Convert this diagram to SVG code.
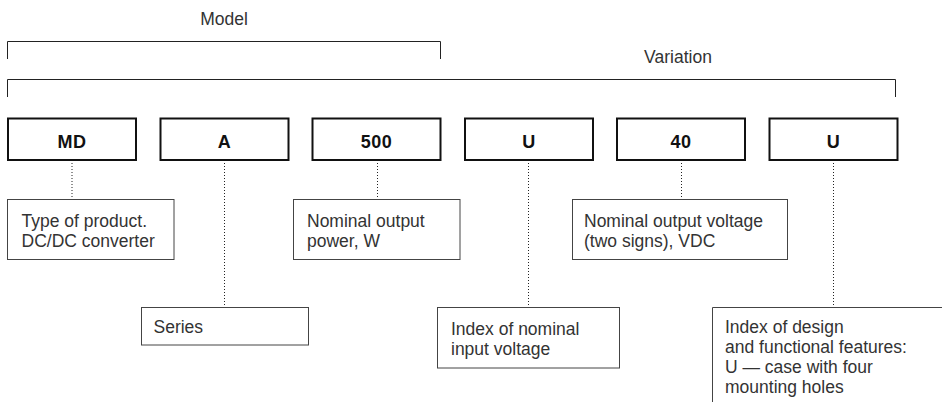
<svg xmlns="http://www.w3.org/2000/svg" width="942" height="412" viewBox="0 0 942 412">
  <style>
    .bg { fill: #ffffff; }
    .code rect { fill: #ffffff; stroke: #111111; stroke-width: 2; }
    .code text { font-family: "Liberation Sans", Arial, sans-serif; font-size: 18px; font-weight: bold; fill: #111111; text-anchor: middle; letter-spacing: 0.5px; }
    .desc rect, .desc path { fill: #ffffff; stroke: #444444; stroke-width: 1; }
    .desc text, .label { font-family: "Liberation Sans", Arial, sans-serif; font-size: 17.5px; fill: #333333; }
    .label { text-anchor: middle; }
    .bracket { fill: none; stroke: #222222; stroke-width: 1; }
    .dot { fill: none; stroke: #222222; stroke-width: 1; stroke-dasharray: 1 2; }
  </style>
  <rect class="bg" x="0" y="0" width="942" height="412"/>

  <g id="model-bracket">
    <text class="label" x="224" y="25">Model</text>
    <path class="bracket" d="M7.5,59 V41.5 H440.5 V59"/>
  </g>
  <g id="variation-bracket">
    <text class="label" x="678" y="63">Variation</text>
    <path class="bracket" d="M7.5,97 V79.5 H895.5 V97"/>
  </g>

  <g id="connectors">
    <line class="dot" x1="72" y1="160" x2="72" y2="199"/>
    <line class="dot" x1="224.5" y1="160" x2="224.5" y2="307"/>
    <line class="dot" x1="377.5" y1="160" x2="377.5" y2="199"/>
    <line class="dot" x1="528.5" y1="160" x2="528.5" y2="307"/>
    <line class="dot" x1="681.5" y1="160" x2="681.5" y2="199"/>
    <line class="dot" x1="833.5" y1="160" x2="833.5" y2="307"/>
  </g>

  <g id="code-md" class="code">
    <rect x="8" y="118.5" width="128" height="41.5"/>
    <text x="72" y="147.5">MD</text>
  </g>
  <g id="code-a" class="code">
    <rect x="160.5" y="118.5" width="128" height="41.5"/>
    <text x="224.5" y="147.5">A</text>
  </g>
  <g id="code-500" class="code">
    <rect x="312.5" y="118.5" width="128" height="41.5"/>
    <text x="376.5" y="147.5">500</text>
  </g>
  <g id="code-u1" class="code">
    <rect x="465" y="118.5" width="128" height="41.5"/>
    <text x="529" y="147.5">U</text>
  </g>
  <g id="code-40" class="code">
    <rect x="617" y="118.5" width="128" height="41.5"/>
    <text x="681" y="147.5">40</text>
  </g>
  <g id="code-u2" class="code">
    <rect x="769.5" y="118.5" width="128" height="41.5"/>
    <text x="833.5" y="147.5">U</text>
  </g>

  <g id="desc-type" class="desc">
    <rect x="7.5" y="199.5" width="166.5" height="60"/>
    <text x="21.5" y="226.5">Type of product.</text>
    <text x="21.5" y="247">DC/DC converter</text>
  </g>
  <g id="desc-series" class="desc">
    <rect x="141.5" y="307.5" width="167" height="37.5"/>
    <text x="153.5" y="333">Series</text>
  </g>
  <g id="desc-power" class="desc">
    <rect x="293.5" y="199.5" width="166.5" height="60"/>
    <text x="307" y="226.5">Nominal output</text>
    <text x="307" y="247">power, W</text>
  </g>
  <g id="desc-input" class="desc">
    <rect x="437.5" y="307.5" width="182" height="60.5"/>
    <text x="451" y="335">Index of nominal</text>
    <text x="451" y="355">input voltage</text>
  </g>
  <g id="desc-voltage" class="desc">
    <rect x="572.5" y="199.5" width="215" height="60"/>
    <text x="584" y="226.5">Nominal output voltage</text>
    <text x="584" y="247">(two signs), VDC</text>
  </g>
  <g id="desc-design" class="desc">
    <path d="M942,307.5 H712.5 V402" fill="none"/>
    <text x="725" y="333">Index of design</text>
    <text x="725" y="353">and functional features:</text>
    <text x="725" y="373">U — case with four</text>
    <text x="725" y="393">mounting holes</text>
  </g>
</svg>
